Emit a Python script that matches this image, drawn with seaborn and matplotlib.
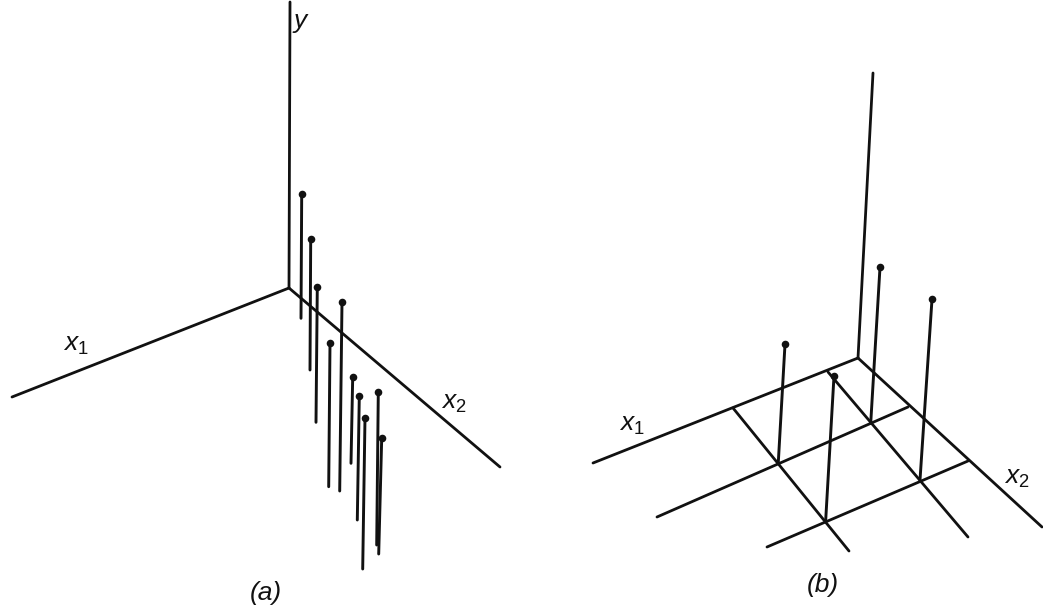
import matplotlib
matplotlib.use("Agg")
import matplotlib.pyplot as plt
import pandas as pd
import seaborn as sns

# -----------------------------
# DATA (image pixels)
# -----------------------------
# (a) axes
axes_a_x = [[290, 289], [289, 12], [289, 500]]
axes_a_y = [[2, 288], [288, 397], [288, 467]]

# (a) points and where their stems end
head_a_x = [301.7, 310.7, 317.3, 342, 330, 352.7, 359.3, 365, 378.3, 381.7]
head_a_y = [194, 239, 286.7, 301.7, 343.3, 377.3, 395.7, 417.7, 391.7, 438.3]
foot_a_x = [301, 310, 316, 339.7, 328.7, 351, 357.3, 362.7, 376.7, 378.7]
foot_a_y = [318.3, 370, 422.3, 491, 486.7, 463.3, 520, 569, 545, 554]

# (b) axes and grid
axes_b_x = [[873, 858], [858, 593], [858, 1042]]
axes_b_y = [[73, 358], [358, 463], [358, 527]]
grid_b_x = [[733, 849], [828, 968], [908, 657], [968, 767]]
grid_b_y = [[408, 551], [372, 537], [407, 517], [461, 547]]

# (b) points and where their stems end
head_b_x = [785, 834, 880, 932]
head_b_y = [344.3, 376, 267.3, 299.3]
foot_b_x = [778.3, 825.7, 870.7, 920]
foot_b_y = [462.3, 520, 423.3, 480]

# -----------------------------
# LABELS
# -----------------------------
labels = [r"$x_{\mathrm{1}}$", r"$x_{\mathrm{2}}$", r"$x_{\mathrm{1}}$", r"$x_{\mathrm{2}}$",
          "$y$", "(a)", "(b)"]
label_x = [76, 454, 632, 1017, 301, 266, 823]
label_y = [345, 403, 425, 478, 23, 593, 585]

sns.set_theme(style="white")
plt.rcParams["font.family"] = ["Liberation Sans", "DejaVu Sans"]
plt.rcParams["mathtext.fontset"] = "custom"
plt.rcParams["mathtext.it"] = "Liberation Sans:italic"
plt.rcParams["mathtext.rm"] = "Liberation Sans"

INK = "#111111"


def segments(xs, ys):
    rows = []
    for i, (sx, sy) in enumerate(zip(xs, ys)):
        for px, py in zip(sx, sy):
            rows.append({"seg": i, "x": px, "y": py})
    return pd.DataFrame(rows)


def draw_lines(ax, xs, ys, lw):
    sns.lineplot(data=segments(xs, ys), x="x", y="y", units="seg", estimator=None,
                 sort=False, color=INK, linewidth=lw, ax=ax, legend=False)


fig, ax = plt.subplots(figsize=(10.43, 6.07), dpi=100)
fig.subplots_adjust(left=0, right=1, bottom=0, top=1)

draw_lines(ax, axes_a_x, axes_a_y, 2.0)
draw_lines(ax, axes_b_x, axes_b_y, 2.0)
draw_lines(ax, grid_b_x, grid_b_y, 2.0)
draw_lines(ax, list(zip(head_a_x, foot_a_x)), list(zip(head_a_y, foot_a_y)), 2.1)
draw_lines(ax, list(zip(head_b_x, foot_b_x)), list(zip(head_b_y, foot_b_y)), 2.1)

sns.scatterplot(x=head_a_x + head_b_x, y=head_a_y + head_b_y, color=INK, s=30,
                linewidth=0, ax=ax, legend=False)

for text, tx, ty in zip(labels, label_x, label_y):
    ax.text(tx, ty, text, fontsize=19, style="italic", color=INK, ha="center", va="center")

ax.set_xlim(0, 1043)
ax.set_ylim(607, 0)
ax.set_xlabel("")
ax.set_ylabel("")
ax.axis("off")

fig.savefig("out.png", dpi=100)
